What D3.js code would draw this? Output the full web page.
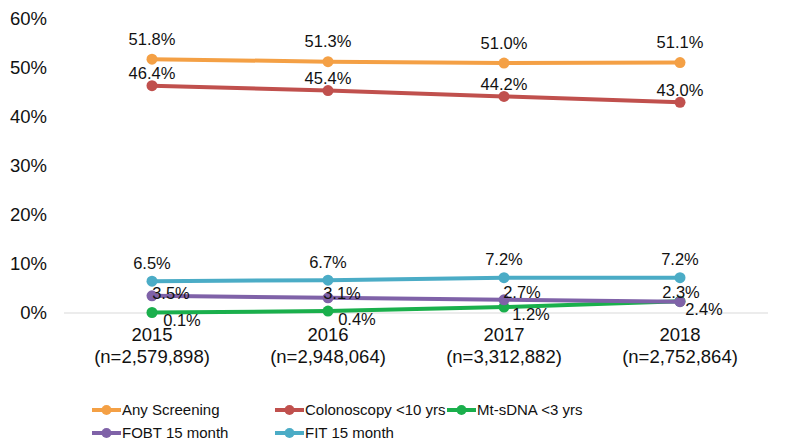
<!DOCTYPE html>
<html><head><meta charset="utf-8">
<script src="https://cdn.jsdelivr.net/npm/d3@7"></script>
<style>
html,body{margin:0;padding:0;background:#fff;}
text{font-family:"Liberation Sans",Arial,Helvetica,sans-serif;fill:#111;}
</style></head>
<body>
<svg id="chart" width="787" height="446"></svg>
<script>
const years = ["2015","2016","2017","2018"];
const sampleSizes = ["(n=2,579,898)","(n=2,948,064)","(n=3,312,882)","(n=2,752,864)"];
const seriesNames = ["Any Screening","Colonoscopy <10 yrs","Mt-sDNA <3 yrs","FOBT 15 month","FIT 15 month"];
const anyScreening = [51.8, 51.3, 51.0, 51.1];
const colonoscopy = [46.4, 45.4, 44.2, 43.0];
const mtsdna = [0.1, 0.4, 1.2, 2.4];
const fobt = [3.5, 3.1, 2.7, 2.3];
const fit = [6.5, 6.7, 7.2, 7.2];
const yTicks = [0, 10, 20, 30, 40, 50, 60];

const colors = ["#F4A045", "#C0504D", "#1AAF4C", "#7F62A8", "#4BACC6"];
const seriesValues = [anyScreening, colonoscopy, mtsdna, fobt, fit];
// label offsets (dx, dy) per series / point — styling only
const labelOffsets = [
  [[0,-20],[0,-20],[0,-20],[0,-20]],
  [[0,-12],[0,-12],[0,-12],[0,-12]],
  [[30,8],[29,8],[27,7],[24,8]],
  [[19,-3],[14,-5],[18,-8],[1,-10]],
  [[0,-18],[0,-18],[0,-18],[0,-18]]
];

const svg = d3.select("#chart");
const x = d3.scaleBand().domain(years).range([64, 768]);
const y = d3.scaleLinear().domain([0, 60]).range([313, 19]);

// y axis labels
svg.append("g").selectAll("text").data(yTicks).join("text")
  .attr("x", 47).attr("y", d => y(d)).attr("dy", "0.35em")
  .attr("text-anchor", "end").style("font-size", "18.5px")
  .text(d => d + "%");

// baseline
svg.append("line").attr("x1", 64).attr("x2", 768)
  .attr("y1", y(0)).attr("y2", y(0)).attr("stroke", "#d9d9d9").attr("stroke-width", 1);

// x labels
const xl = svg.append("g");
xl.selectAll("text.yr").data(years).join("text").attr("class","yr")
  .attr("x", d => x(d) + x.bandwidth()/2).attr("y", 335).attr("dy","0.35em")
  .attr("text-anchor","middle").style("font-size","18.5px").text(d => d);
xl.selectAll("text.n").data(sampleSizes).join("text").attr("class","n")
  .attr("x", (d,i) => x(years[i]) + x.bandwidth()/2).attr("y", 357).attr("dy","0.35em")
  .attr("text-anchor","middle").style("font-size","18.5px").text(d => d);

const line = d3.line().x((d,i) => x(years[i]) + x.bandwidth()/2).y(d => y(d));
const order = [0, 1, 2, 3, 4];
order.forEach(s => {
  const g = svg.append("g");
  g.append("path").datum(seriesValues[s]).attr("d", line)
    .attr("fill","none").attr("stroke", colors[s]).attr("stroke-width", 4);
  g.selectAll("circle").data(seriesValues[s]).join("circle")
    .attr("cx", (d,i) => x(years[i]) + x.bandwidth()/2).attr("cy", d => y(d))
    .attr("r", 5.5).attr("fill", colors[s]);
});
order.forEach(s => {
  svg.append("g").selectAll("text").data(seriesValues[s]).join("text")
    .attr("x", (d,i) => x(years[i]) + x.bandwidth()/2 + labelOffsets[s][i][0])
    .attr("y", (d,i) => y(d) + labelOffsets[s][i][1]).attr("dy","0.35em")
    .attr("text-anchor","middle").style("font-size","16.5px")
    .text(d => d.toFixed(1) + "%");
});

// legend
const legendPos = [[92,410],[275,410],[447,410],[92,433],[275,433]];
seriesNames.forEach((name, s) => {
  const [lx, ly] = legendPos[s];
  const g = svg.append("g");
  g.append("line").attr("x1", lx).attr("x2", lx + 29).attr("y1", ly).attr("y2", ly)
    .attr("stroke", colors[s]).attr("stroke-width", 4);
  g.append("circle").attr("cx", lx + 14.5).attr("cy", ly).attr("r", 5).attr("fill", colors[s]);
  g.append("text").attr("x", lx + 30).attr("y", ly).attr("dy","0.35em")
    .style("font-size","15px").text(name);
});
</script>
</body></html>
